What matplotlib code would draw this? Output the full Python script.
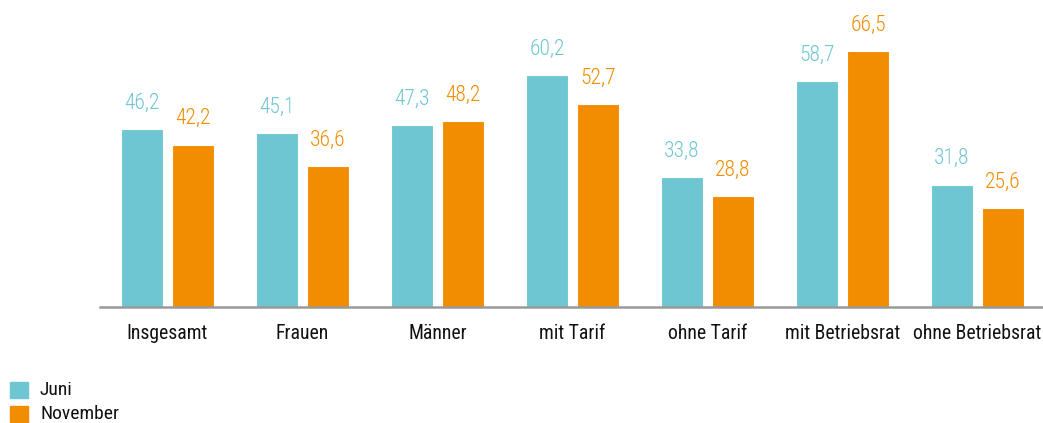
import matplotlib
matplotlib.use("Agg")
import matplotlib.pyplot as plt
from matplotlib.patches import Rectangle
import numpy as np

categories = ["Insgesamt", "Frauen", "Männer", "mit Tarif", "ohne Tarif", "mit Betriebsrat", "ohne Betriebsrat"]
juni = [46.2, 45.1, 47.3, 60.2, 33.8, 58.7, 31.8]
november = [42.2, 36.6, 48.2, 52.7, 28.8, 66.5, 25.6]
series_names = ["Juni", "November"]

TEAL = "#6EC6D2"
ORANGE = "#F28C00"

plt.rcParams['font.family'] = ['Roboto Condensed', 'DejaVu Sans']

W, H = 1043, 423
fig = plt.figure(figsize=(W / 100, H / 100), dpi=100)
ax = fig.add_axes([100 / W, 1 - 307 / H, 1 - 100 / W, 307 / H])

x = np.arange(len(categories))
bw = 42 / 135
off = 25.5 / 135
b1 = ax.bar(x - off, juni, width=bw, color=TEAL, edgecolor='white', linewidth=0.8)
b2 = ax.bar(x + off, november, width=bw, color=ORANGE, edgecolor='white', linewidth=0.8)

def fmt(v):
    return f"{v:.1f}".replace(".", ",")

for bars, vals, col in ((b1, juni, TEAL), (b2, november, ORANGE)):
    for rect, v in zip(bars, vals):
        ax.annotate(fmt(v), (rect.get_x() + rect.get_width() / 2, v),
                    xytext=(0, 11), textcoords='offset points',
                    ha='center', va='bottom', color=col, fontsize=15.5,
                    fontweight='light')

ax.set_xlim(-0.5, (W - 167.5) / 135)
ax.set_ylim(0, 307 / 3.85)
ax.set_xticks(x)
ax.set_xticklabels(categories, fontsize=14.2, color='#111111')
ax.tick_params(axis='x', length=0, pad=12)
ax.set_yticks([])
for s in ['top', 'right', 'left']:
    ax.spines[s].set_visible(False)
ax.spines['bottom'].set_color('#999999')
ax.spines['bottom'].set_linewidth(1.8)
ax.patch.set_alpha(0)

# legend
for i, (name, col) in enumerate(zip(series_names, [TEAL, ORANGE])):
    y0 = 382 + i * 24
    fig.add_artist(Rectangle((10 / W, 1 - (y0 + 16) / H), 18 / W, 16 / H,
                             transform=fig.transFigure, color=col))
    fig.text(40 / W, 1 - (y0 + 8) / H, name, fontsize=14, va='center', ha='left', color='#111111')

fig.savefig("out.png", dpi=100)
